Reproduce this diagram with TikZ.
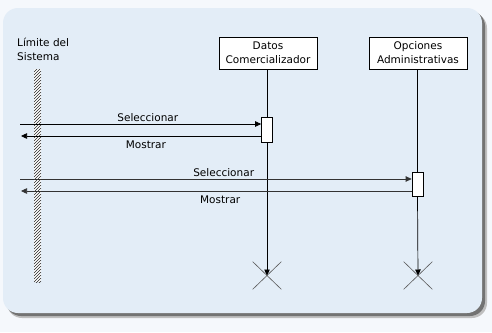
\documentclass[tikz,border=0pt]{standalone}
\usepackage{fontspec}
\setmainfont{DejaVu Sans}
\usetikzlibrary{positioning,arrows.meta,shapes.misc}
\definecolor{panelblue}{HTML}{E3EDF7}
\definecolor{pagebg}{HTML}{F5F8FC}
\newcommand{\seqfont}{\fontsize{10.5}{14}\selectfont}
\tikzset{
  seqbox/.style={draw, fill=white, align=center, inner sep=0pt, line width=0.7pt,
    minimum width=98pt, minimum height=32pt, font=\seqfont},
  seqact/.style={draw, fill=white, inner sep=0pt, line width=0.7pt, minimum width=11pt},
  seqend/.style={cross out, draw=black!65, inner sep=0pt, line width=0.6pt,
    minimum width=28pt, minimum height=27pt},
  seqmsg/.style={-{Triangle[length=6pt, width=5.5pt]}, line width=0.7pt},
  seqlife/.style={-{Triangle[length=6pt, width=5.5pt]}, line width=0.7pt},
  seqlabel/.style={font=\seqfont, inner sep=2pt},
}

\begin{document}
\begin{tikzpicture}[x=1pt, y=-1pt]
  \fill[pagebg] (0,0) rectangle (492,332);
  \useasboundingbox (0,0) rectangle (492,332);
  % panel with shadow
  \fill[black!25, rounded corners=15pt] (7,13) rectangle (487,318);
  \fill[black!55, rounded corners=15pt] (6,11) rectangle (485,316);
  \fill[panelblue, rounded corners=15pt] (3,8) rectangle (482,313);

  % system boundary
  \node[seqlabel, align=left, anchor=north west, inner sep=0pt] (limite) at (17,38) {Límite del\\Sistema};
  \begin{scope}
    \clip (34,69) rectangle (41,282);
    \fill[white] (34,69) rectangle (41,282);
    \foreach \k in {69,72,...,291}
      \draw[line width=0.5pt, black!85] (34,\k) -- ++(7,-7);
  \end{scope}

  \node[seqbox] (datos) at (268,53) {Datos\\Comercializador};
  \node[seqbox] (opciones) at (418,53) {Opciones\\Administrativas};

  \node[seqact, minimum height=25pt] (act1) at (267,129.5) {};
  \node[seqact, minimum height=24pt] (act2) at (417.5,184) {};

  \node[seqend] (fin1) at (267,275.5) {};
  \node[seqend] (fin2) at (418,275.5) {};

  % lifelines
  \draw[line width=0.7pt] (datos.south -| act1) -- (act1.north);
  \draw[seqlife] (act1.south) -- (fin1.center);
  \draw[line width=0.7pt] (opciones.south -| act2) -- (act2.north);
  \draw[seqlife] (act2.south) -- (fin2.center);

  % messages
  \coordinate (sel1) at (20,124);
  \coordinate (mos1) at (21,136);
  \coordinate (sel2) at (20,179);
  \coordinate (mos2) at (21,191);
  \draw[seqmsg] (sel1) -- node[seqlabel, above, pos=0.53] {Seleccionar} (act1.west |- sel1);
  \draw[seqmsg] (act1.west |- mos1) -- node[seqlabel, below=2pt, pos=0.48] {Mostrar} (mos1);
  \draw[seqmsg, black!80] (sel2) -- node[seqlabel, black, above, pos=0.52] {Seleccionar} (act2.west |- sel2);
  \draw[seqmsg, black!80] (act2.west |- mos2) -- node[seqlabel, black, below=2pt, pos=0.49] {Mostrar} (mos2);
\end{tikzpicture}
\end{document}
